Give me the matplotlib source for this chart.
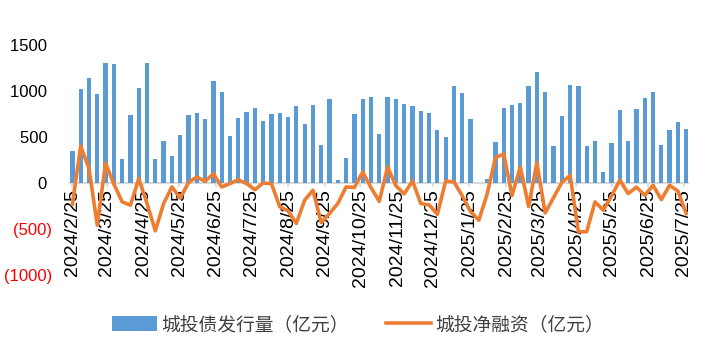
import numpy as np
import pandas as pd
import matplotlib
matplotlib.use('Agg')
import matplotlib.pyplot as plt

plt.rcParams['font.family'] = ['Liberation Sans', 'Noto Sans CJK SC']

# weekly data
weeks = pd.date_range('2024-02-25', periods=75, freq='7D')

issuance = [353, 1020, 1139, 966, 1308, 1290, 264, 739, 1038, 1308,
            264, 454, 292, 519, 735, 761, 692, 1110, 984, 508,
            703, 772, 811, 670, 750, 761, 714, 832, 638, 843,
            411, 916, 32, 270, 746, 916, 937, 532, 940, 908,
            854, 832, 778, 761, 573, 497, 1049, 973, 699, 0,
            48, 443, 818, 843, 865, 1049, 1211, 984, 397, 724,
            1070, 1049, 397, 454, 116, 432, 789, 458, 800, 919,
            994, 408, 573, 659, 584]

net_financing = [-230, 400, 160, -457, 216, -10, -205, -241, 47, -223,
                 -520, -223, -43, -165, 5, 65, 18, 101, -43, -7,
                 36, -7, -72, 0, -7, -259, -302, -439, -187, -79,
                 -430, -331, -223, -43, -48, 119, -50, -200, 175, -30,
                 -118, 22, -223, -238, -340, 20, 12, -140, -310, -405,
                 -120, 275, 315, -135, 175, -255, 222, -325, -160, 5,
                 83, -530, -530, -205, -295, -140, 32, -115, -45, -133,
                 -25, -180, -25, -88, -331]

tick_dates = pd.date_range('2024-02-25', '2025-07-25', freq=pd.DateOffset(months=1))
tick_labels = [f'{d.year}/{d.month}/{d.day}' for d in tick_dates]

y_ticks = [-1000, -500, 0, 500, 1000, 1500]

fig = plt.figure(figsize=(7.09, 3.55), dpi=100)
ax = fig.add_axes([70/709, 1-275/355, (688-70)/709, 230/355])

bars = ax.bar(weeks, issuance, width=3.6, color='#5B9BD5', zorder=2)
line, = ax.plot(weeks, net_financing, color='#ED7D31', lw=2.6, zorder=3)

ax.set_ylim(-1000, 1500)
ax.set_xlim(weeks[0] - pd.Timedelta(days=2), weeks[-1] + pd.Timedelta(days=1.5))

ax.set_yticks(y_ticks)
ylab = [f'({-v})' if v < 0 else f'{v} ' for v in y_ticks]
ax.set_yticklabels(ylab)
ax.tick_params(axis='y', length=0, pad=13, labelsize=12)
for t, v in zip(ax.get_yticklabels(), y_ticks):
    t.set_color('#FF0000' if v < 0 else '#000000')

ax.set_xticks(tick_dates)
ax.set_xticklabels(tick_labels)
ax.tick_params(axis='x', direction='out', length=3, width=1.2, color='#D9D9D9', pad=1.5,
               labelsize=14, labelrotation=90)

for s in ['top', 'right', 'left']:
    ax.spines[s].set_visible(False)
ax.spines['bottom'].set_position(('data', 0))
ax.spines['bottom'].set_color('#D9D9D9')
ax.spines['bottom'].set_linewidth(1.5)
ax.spines['bottom'].set_zorder(1)

leg = fig.legend([bars, line], ['城投债发行量（亿元）', '城投净融资（亿元）'],
                 loc='center', bbox_to_anchor=(0.505, 1-325/355), ncol=2, frameon=False,
                 fontsize=13.5, handlelength=2.4, handleheight=0.8, handletextpad=0.2,
                 columnspacing=2.0)
for t in leg.get_texts():
    t.set_color('#404040')

fig.savefig('out.png', dpi=100)
